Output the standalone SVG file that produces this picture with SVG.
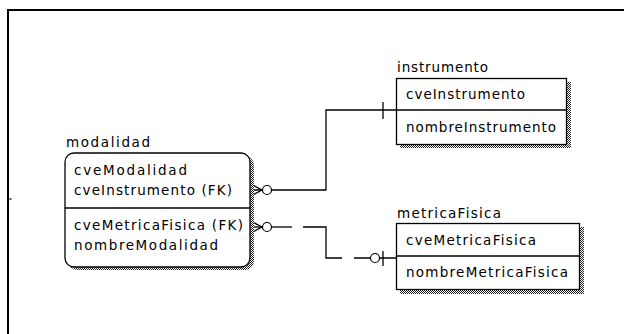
<svg xmlns="http://www.w3.org/2000/svg" width="624" height="334" viewBox="0 0 624 334">
<style>
  text { font-family: "DejaVu Sans", "Liberation Sans", sans-serif; font-size: 13.5px; fill: #000; }
  .box { fill: #fff; stroke: #000; stroke-width: 1.3; }
  .div { stroke: #000; stroke-width: 1.3; }
  .shadow { fill: url(#dither); }
  .conn { fill: none; stroke: #000; stroke-width: 1.3; }
  .circ { fill: #fff; stroke: #000; stroke-width: 1.2; }
</style>
<defs>
  <pattern id="dither" width="2" height="2" patternUnits="userSpaceOnUse">
    <rect width="2" height="2" fill="#fff"/>
    <rect width="1" height="1" fill="#222"/>
    <rect x="1" y="1" width="1" height="1" fill="#222"/>
  </pattern>
</defs>
<rect width="624" height="334" fill="#fff"/>
<!-- frame -->
<path d="M8,334 V10 H624" fill="none" stroke="#000" stroke-width="2"/>
<rect x="9.5" y="198" width="2" height="2" fill="#555"/>

<g id="connectors">
  <!-- modalidad -> instrumento (solid) -->
  <path class="conn" d="M252,190 H326 V110 H397"/>
  <path class="conn" d="M251,184 L262,190 L251,196"/>
  <circle class="circ" cx="267" cy="190" r="4.5"/>
  <line class="conn" x1="383" y1="102" x2="383" y2="119"/>
  <!-- modalidad -> metricaFisica (dashed) -->
  <path class="conn" d="M252,227 H262"/>
  <path class="conn" d="M251,221 L262,227 L251,233"/>
  <circle class="circ" cx="267" cy="227" r="4.5"/>
  <path class="conn" d="M271.5,227 H292"/>
  <path class="conn" d="M303,227 H326 V258 H342"/>
  <path class="conn" d="M354,258 H397"/>
  <circle class="circ" cx="375" cy="258" r="4.5"/>
  <line class="conn" x1="383" y1="251" x2="383" y2="266"/>
</g>

<g id="modalidad">
  <rect class="shadow" x="68" y="156" width="186" height="114" rx="9"/>
  <rect class="box" x="65" y="153" width="185" height="114" rx="9"/>
  <line class="div" x1="65" y1="208" x2="250" y2="208"/>
  <text x="66" y="147" textLength="84" lengthAdjust="spacing">modalidad</text>
  <text x="74" y="175" textLength="113" lengthAdjust="spacing">cveModalidad</text>
  <text x="74" y="195" textLength="158" lengthAdjust="spacing">cveInstrumento (FK)</text>
  <text x="74" y="230" textLength="169" lengthAdjust="spacing">cveMetricaFisica (FK)</text>
  <text x="74" y="250" textLength="144" lengthAdjust="spacing">nombreModalidad</text>
</g>

<g id="instrumento">
  <rect class="shadow" x="400" y="82" width="171" height="66"/>
  <rect class="box" x="396.5" y="78.5" width="170" height="66"/>
  <line class="div" x1="396.5" y1="110" x2="566.5" y2="110"/>
  <text x="397" y="72" textLength="91" lengthAdjust="spacing">instrumento</text>
  <text x="406" y="99" textLength="119" lengthAdjust="spacing">cveInstrumento</text>
  <text x="406" y="132" textLength="150" lengthAdjust="spacing">nombreInstrumento</text>
</g>

<g id="metricaFisica">
  <rect class="shadow" x="400" y="227" width="184" height="67"/>
  <rect class="box" x="396.5" y="223.5" width="183" height="66"/>
  <line class="div" x1="396.5" y1="256" x2="579.5" y2="256"/>
  <text x="397" y="218" textLength="104" lengthAdjust="spacing">metricaFisica</text>
  <text x="406" y="245" textLength="130" lengthAdjust="spacing">cveMetricaFisica</text>
  <text x="406" y="277" textLength="162" lengthAdjust="spacing">nombreMetricaFisica</text>
</g>
</svg>
